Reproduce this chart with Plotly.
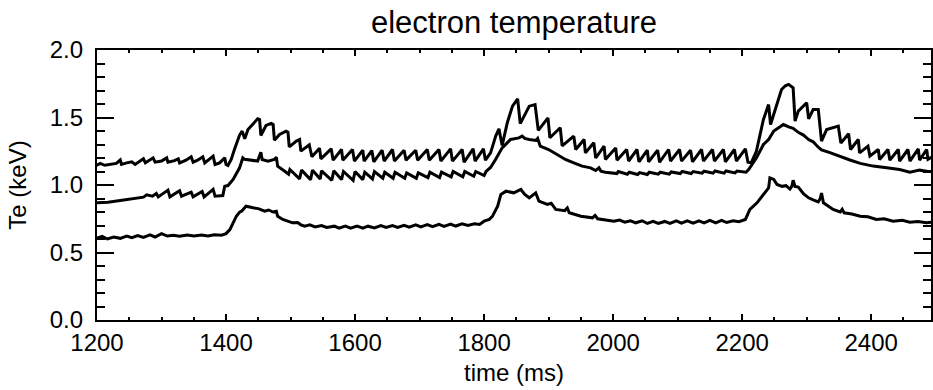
import plotly.graph_objects as go

# Electron temperature traces (keV) vs time (ms) at three radii
core_t = [1199, 1205, 1212, 1222, 1230, 1236, 1238, 1246, 1254, 1259, 1272, 1275, 1287, 1290, 1300, 1308, 1310,
          1320, 1326, 1328, 1338, 1346, 1349, 1356, 1364, 1367, 1380, 1383, 1390, 1398, 1400, 1403, 1408, 1413,
          1418, 1421, 1425, 1429, 1434, 1442, 1449, 1452, 1454, 1462, 1470, 1473, 1475, 1483, 1493, 1496, 1498,
          1509, 1514, 1516, 1529, 1533, 1545, 1547, 1563, 1566, 1579, 1581, 1596, 1599, 1612, 1614, 1626, 1629,
          1642, 1645, 1658, 1661, 1676, 1679, 1694, 1697, 1712, 1715, 1730, 1733, 1748, 1751, 1766, 1769, 1783,
          1786, 1799, 1802, 1810, 1818, 1823, 1828, 1836, 1844, 1852, 1856, 1870, 1879, 1884, 1899, 1902, 1918,
          1921, 1939, 1942, 1955, 1957, 1970, 1973, 1986, 1988, 2004, 2006, 2021, 2024, 2037, 2040, 2053, 2055,
          2069, 2072, 2086, 2089, 2103, 2106, 2120, 2123, 2137, 2140, 2154, 2157, 2171, 2174, 2188, 2191, 2205,
          2209, 2214, 2222, 2233, 2241, 2244, 2254, 2261, 2267, 2272, 2279, 2282, 2287, 2300, 2303, 2310, 2318,
          2323, 2331, 2344, 2349, 2353, 2365, 2368, 2380, 2382, 2395, 2398, 2411, 2413, 2426, 2429, 2442, 2444,
          2457, 2460, 2473, 2475, 2486, 2488, 2495]
core_te = [1.144, 1.160, 1.146, 1.155, 1.160, 1.185, 1.152, 1.164, 1.172, 1.152, 1.194, 1.164, 1.201, 1.169, 1.177,
           1.201, 1.169, 1.180, 1.194, 1.164, 1.184, 1.209, 1.169, 1.184, 1.209, 1.164, 1.214, 1.152, 1.164, 1.201,
           1.152, 1.144, 1.189, 1.263, 1.337, 1.370, 1.399, 1.342, 1.411, 1.456, 1.490, 1.485, 1.367, 1.441, 1.456,
           1.448, 1.332, 1.374, 1.399, 1.391, 1.283, 1.325, 1.337, 1.251, 1.298, 1.209, 1.273, 1.194, 1.268, 1.184,
           1.263, 1.184, 1.263, 1.177, 1.258, 1.177, 1.255, 1.172, 1.258, 1.177, 1.263, 1.177, 1.258, 1.184, 1.258,
           1.184, 1.263, 1.184, 1.263, 1.177, 1.268, 1.177, 1.263, 1.169, 1.268, 1.177, 1.268, 1.184, 1.238, 1.362,
           1.416, 1.293, 1.461, 1.584, 1.638, 1.455, 1.584, 1.596, 1.405, 1.497, 1.350, 1.424, 1.290, 1.362, 1.263,
           1.337, 1.238, 1.313, 1.200, 1.288, 1.189, 1.275, 1.184, 1.263, 1.177, 1.263, 1.172, 1.258, 1.172, 1.258,
           1.169, 1.263, 1.177, 1.263, 1.177, 1.258, 1.172, 1.263, 1.177, 1.263, 1.177, 1.263, 1.172, 1.263, 1.177,
           1.268, 1.169, 1.164, 1.250, 1.485, 1.596, 1.448, 1.609, 1.707, 1.735, 1.745, 1.720, 1.473, 1.547, 1.609,
           1.490, 1.559, 1.559, 1.325, 1.411, 1.430, 1.436, 1.310, 1.380, 1.263, 1.337, 1.238, 1.288, 1.214, 1.263,
           1.189, 1.263, 1.184, 1.263, 1.177, 1.263, 1.177, 1.268, 1.184, 1.263, 1.190, 1.210]

mid_t = [1199, 1217, 1236, 1254, 1272, 1277, 1286, 1292, 1295, 1310, 1313, 1328, 1331, 1346, 1349, 1363, 1366,
         1380, 1383, 1395, 1398, 1403, 1411, 1421, 1426, 1429, 1440, 1449, 1454, 1456, 1465, 1475, 1478, 1480,
         1491, 1497, 1499, 1514, 1517, 1531, 1534, 1546, 1548, 1564, 1567, 1579, 1582, 1597, 1600, 1612, 1615,
         1627, 1630, 1643, 1646, 1659, 1662, 1677, 1680, 1695, 1698, 1713, 1716, 1731, 1734, 1749, 1752, 1767,
         1770, 1784, 1787, 1800, 1803, 1810, 1818, 1828, 1841, 1854, 1859, 1863, 1870, 1880, 1883, 1887, 1900,
         1913, 1926, 1939, 1952, 1965, 1973, 1978, 1981, 1988, 2006, 2008, 2022, 2025, 2038, 2041, 2053, 2056,
         2070, 2073, 2087, 2090, 2104, 2107, 2121, 2124, 2138, 2141, 2155, 2158, 2172, 2175, 2189, 2192, 2206,
         2210, 2222, 2233, 2241, 2249, 2261, 2264, 2272, 2279, 2287, 2295, 2303, 2310, 2318, 2323, 2336, 2352,
         2367, 2383, 2403, 2424, 2444, 2460, 2475, 2488, 2495]
mid_te = [0.868, 0.873, 0.885, 0.898, 0.910, 0.927, 0.917, 0.937, 0.912, 0.962, 0.912, 0.957, 0.917, 0.947, 0.912,
          0.952, 0.912, 0.967, 0.917, 0.922, 0.991, 0.996, 1.041, 1.127, 1.201, 1.190, 1.180, 1.177, 1.243, 1.189,
          1.177, 1.190, 1.205, 1.140, 1.102, 1.080, 1.115, 1.045, 1.110, 1.040, 1.110, 1.045, 1.105, 1.035, 1.105,
          1.040, 1.100, 1.035, 1.100, 1.040, 1.095, 1.045, 1.100, 1.050, 1.095, 1.050, 1.095, 1.050, 1.090, 1.050,
          1.090, 1.055, 1.095, 1.055, 1.095, 1.060, 1.100, 1.060, 1.100, 1.065, 1.100, 1.070, 1.100, 1.130, 1.190,
          1.275, 1.337, 1.349, 1.362, 1.345, 1.337, 1.330, 1.345, 1.288, 1.263, 1.226, 1.189, 1.164, 1.140, 1.127,
          1.107, 1.127, 1.103, 1.095, 1.085, 1.100, 1.080, 1.095, 1.078, 1.092, 1.078, 1.095, 1.080, 1.095, 1.080,
          1.097, 1.085, 1.100, 1.085, 1.100, 1.088, 1.102, 1.088, 1.104, 1.088, 1.104, 1.090, 1.104, 1.095, 1.115,
          1.200, 1.300, 1.337, 1.400, 1.436, 1.448, 1.430, 1.420, 1.390, 1.370, 1.337, 1.320, 1.280, 1.260, 1.240,
          1.210, 1.185, 1.160, 1.140, 1.127, 1.115, 1.095, 1.110, 1.100, 1.100]

edge_t = [1199, 1208, 1216, 1226, 1236, 1246, 1254, 1263, 1272, 1282, 1290, 1300, 1309, 1318, 1328, 1340, 1350,
          1362, 1372, 1382, 1393, 1400, 1406, 1411, 1416, 1421, 1424, 1431, 1436, 1442, 1450, 1460, 1466, 1473,
          1478, 1480, 1488, 1496, 1503, 1511, 1516, 1522, 1530, 1538, 1548, 1556, 1568, 1575, 1585, 1593, 1603,
          1612, 1620, 1630, 1640, 1648, 1658, 1666, 1676, 1684, 1694, 1702, 1712, 1720, 1730, 1738, 1748, 1756,
          1766, 1775, 1785, 1793, 1800, 1808, 1813, 1821, 1826, 1834, 1840, 1846, 1857, 1863, 1870, 1880, 1885,
          1898, 1904, 1911, 1925, 1929, 1932, 1950, 1968, 1972, 1976, 1986, 2001, 2010, 2018, 2027, 2035, 2045,
          2053, 2062, 2070, 2080, 2088, 2098, 2106, 2115, 2124, 2133, 2141, 2150, 2159, 2168, 2176, 2186, 2195,
          2205, 2212, 2223, 2233, 2241, 2243, 2249, 2254, 2262, 2268, 2274, 2277, 2279, 2282, 2287, 2295, 2303,
          2310, 2318, 2321, 2323, 2326, 2341, 2352, 2355, 2358, 2370, 2383, 2395, 2408, 2420, 2434, 2448, 2460,
          2472, 2486, 2495]
edge_te = [0.605, 0.620, 0.600, 0.615, 0.605, 0.622, 0.610, 0.626, 0.612, 0.630, 0.615, 0.640, 0.622, 0.628, 0.620,
           0.630, 0.622, 0.630, 0.622, 0.632, 0.628, 0.640, 0.670, 0.720, 0.769, 0.799, 0.806, 0.843, 0.835, 0.831,
           0.825, 0.806, 0.815, 0.800, 0.805, 0.769, 0.745, 0.732, 0.720, 0.722, 0.705, 0.695, 0.705, 0.690, 0.700,
           0.685, 0.695, 0.680, 0.695, 0.680, 0.695, 0.680, 0.695, 0.682, 0.700, 0.685, 0.700, 0.686, 0.702, 0.688,
           0.705, 0.690, 0.706, 0.692, 0.708, 0.694, 0.710, 0.696, 0.712, 0.700, 0.712, 0.708, 0.732, 0.745, 0.769,
           0.843, 0.930, 0.954, 0.950, 0.942, 0.967, 0.930, 0.905, 0.942, 0.880, 0.856, 0.865, 0.819, 0.810, 0.830,
           0.794, 0.769, 0.757, 0.775, 0.750, 0.744, 0.732, 0.740, 0.725, 0.735, 0.720, 0.735, 0.715, 0.730, 0.715,
           0.730, 0.715, 0.735, 0.718, 0.735, 0.718, 0.735, 0.720, 0.738, 0.720, 0.738, 0.722, 0.735, 0.728, 0.745,
           0.819, 0.868, 0.930, 0.979, 1.053, 1.041, 1.004, 0.990, 0.995, 0.970, 0.990, 1.035, 0.990, 0.985, 0.935,
           0.905, 0.890, 0.875, 0.900, 0.940, 0.868, 0.819, 0.800, 0.820, 0.794, 0.785, 0.769, 0.765, 0.745, 0.750,
           0.732, 0.738, 0.725, 0.730, 0.720, 0.725]

x_ticks = [1200, 1400, 1600, 1800, 2000, 2200, 2400]
y_ticks = [0.0, 0.5, 1.0, 1.5, 2.0]

FONT = "Liberation Sans, Arial, sans-serif"
TICK_SIZE = 24

fig = go.Figure()
for t, te in [(core_t, core_te), (mid_t, mid_te), (edge_t, edge_te)]:
    fig.add_trace(go.Scatter(x=t, y=te, mode="lines",
                             line=dict(color="black", width=3),
                             showlegend=False, hoverinfo="skip"))

axis_common = dict(showline=True, linecolor="black", linewidth=2.4, mirror="allticks",
                   ticks="inside", tickcolor="black", tickwidth=2, showgrid=False, zeroline=False,
                   tickfont=dict(family=FONT, size=TICK_SIZE, color="black"))

fig.update_xaxes(range=[1200, 2492.7], tickvals=x_ticks, ticklen=6,
                 minor=dict(dtick=50, tick0=1200, ticks="inside", ticklen=3, tickwidth=2, tickcolor="black"),
                 title=dict(text="time (ms)", font=dict(family=FONT, size=TICK_SIZE, color="black"), standoff=9),
                 **axis_common)
fig.update_yaxes(range=[0, 2], tickvals=y_ticks, tickformat=".1f", ticklen=17,
                 minor=dict(dtick=0.1, tick0=0, ticks="inside", ticklen=8, tickwidth=2, tickcolor="black"),
                 title=dict(text="Te (keV)", font=dict(family=FONT, size=TICK_SIZE, color="black"), standoff=16),
                 ticklabelstandoff=7,
                 **axis_common)

fig.update_layout(
    width=933, height=390,
    margin=dict(l=97, r=0, t=50, b=70),
    paper_bgcolor="white", plot_bgcolor="white",
    title=dict(text="electron temperature", x=0.5, xref="paper", y=1 - 22 / 390, yref="container",
               xanchor="center", yanchor="middle",
               font=dict(family=FONT, size=31, color="black")),
)

fig.write_html("out.html")
